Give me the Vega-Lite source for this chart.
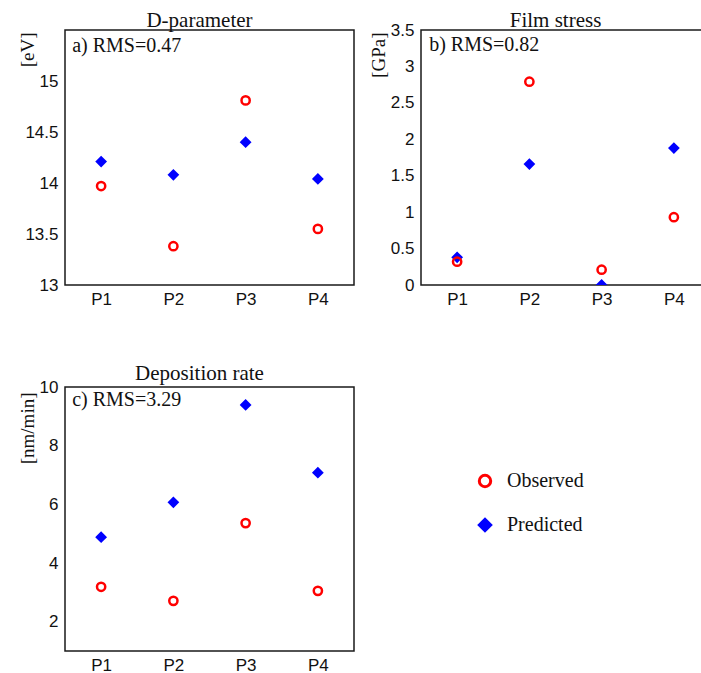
{
  "$schema": "https://vega.github.io/schema/vega-lite/v6.json",
  "background": "white",
  "padding": {"left": 17, "top": 9, "right": 0, "bottom": 0},
  "bounds": "flush",
  "columns": 2,
  "spacing": {"row": 102, "column": 67},
  "data": {
    "values": [
      {"panel": "D-parameter", "point": "P1", "series": "Predicted", "value": 14.21},
      {"panel": "D-parameter", "point": "P2", "series": "Predicted", "value": 14.08},
      {"panel": "D-parameter", "point": "P3", "series": "Predicted", "value": 14.40},
      {"panel": "D-parameter", "point": "P4", "series": "Predicted", "value": 14.04},
      {"panel": "D-parameter", "point": "P1", "series": "Observed", "value": 13.97},
      {"panel": "D-parameter", "point": "P2", "series": "Observed", "value": 13.38},
      {"panel": "D-parameter", "point": "P3", "series": "Observed", "value": 14.81},
      {"panel": "D-parameter", "point": "P4", "series": "Observed", "value": 13.55},
      {"panel": "Film stress", "point": "P1", "series": "Predicted", "value": 0.38},
      {"panel": "Film stress", "point": "P2", "series": "Predicted", "value": 1.66},
      {"panel": "Film stress", "point": "P3", "series": "Predicted", "value": 0.0},
      {"panel": "Film stress", "point": "P4", "series": "Predicted", "value": 1.88},
      {"panel": "Film stress", "point": "P1", "series": "Observed", "value": 0.32},
      {"panel": "Film stress", "point": "P2", "series": "Observed", "value": 2.79},
      {"panel": "Film stress", "point": "P3", "series": "Observed", "value": 0.21},
      {"panel": "Film stress", "point": "P4", "series": "Observed", "value": 0.93},
      {"panel": "Deposition rate", "point": "P1", "series": "Predicted", "value": 4.88},
      {"panel": "Deposition rate", "point": "P2", "series": "Predicted", "value": 6.07},
      {"panel": "Deposition rate", "point": "P3", "series": "Predicted", "value": 9.39},
      {"panel": "Deposition rate", "point": "P4", "series": "Predicted", "value": 7.08},
      {"panel": "Deposition rate", "point": "P1", "series": "Observed", "value": 3.19},
      {"panel": "Deposition rate", "point": "P2", "series": "Observed", "value": 2.71},
      {"panel": "Deposition rate", "point": "P3", "series": "Observed", "value": 5.36},
      {"panel": "Deposition rate", "point": "P4", "series": "Observed", "value": 3.05}
    ]
  },
  "concat": [
    {
      "title": {"text": "D-parameter", "offset": -1},
      "width": 289,
      "height": 255,
      "layer": [
        {
          "transform": [{"filter": "datum.panel == 'D-parameter'"}],
          "mark": {"type": "point", "clip": true, "opacity": 1, "strokeWidth": 2.5, "size": 68},
          "encoding": {
            "x": {"field": "point", "type": "ordinal", "scale": {"type": "point", "padding": 0.5}, "axis": {"title": null}},
            "y": {"field": "value", "type": "quantitative", "scale": {"domain": [13, 15.5], "nice": false, "zero": false}, "axis": {"title": "[eV]", "values": [13, 13.5, 14, 14.5, 15], "format": "~f", "titleX": -47, "titleY": 2}},
            "shape": {"field": "series", "type": "nominal", "scale": {"domain": ["Observed", "Predicted"], "range": ["circle", "diamond"]}, "legend": null},
            "fill": {"field": "series", "type": "nominal", "scale": {"domain": ["Observed", "Predicted"], "range": ["transparent", "#0000ff"]}, "legend": null},
            "stroke": {"field": "series", "type": "nominal", "scale": {"domain": ["Observed", "Predicted"], "range": ["#ff0000", "#0000ff"]}, "legend": null}
          }
        },
        {
          "data": {"values": [{"label": "a) RMS=0.47"}]},
          "mark": {"type": "text", "align": "left", "baseline": "top", "dx": -29, "dy": 6, "font": "Liberation Serif", "fontSize": 20, "color": "#111"},
          "encoding": {
            "x": {"datum": "P1", "type": "ordinal", "axis": {"title": null}},
            "y": {"datum": 15.5, "type": "quantitative", "axis": {"title": "[eV]", "values": [13, 13.5, 14, 14.5, 15], "format": "~f", "titleX": -47, "titleY": 2}},
            "text": {"field": "label"}
          }
        }
      ]
    },
    {
      "title": {"text": "Film stress", "offset": -10},
      "width": 289,
      "height": 255,
      "layer": [
        {
          "transform": [{"filter": "datum.panel == 'Film stress'"}],
          "mark": {"type": "point", "clip": true, "opacity": 1, "strokeWidth": 2.5, "size": 68},
          "encoding": {
            "x": {"field": "point", "type": "ordinal", "scale": {"type": "point", "padding": 0.5}, "axis": {"title": null}},
            "y": {"field": "value", "type": "quantitative", "scale": {"domain": [0, 3.5], "nice": false}, "axis": {"title": "[GPa]", "values": [0, 0.5, 1, 1.5, 2, 2.5, 3, 3.5], "format": "~f", "titleX": -52, "titleY": 2}},
            "shape": {"field": "series", "type": "nominal", "scale": {"domain": ["Observed", "Predicted"], "range": ["circle", "diamond"]}, "legend": null},
            "fill": {"field": "series", "type": "nominal", "scale": {"domain": ["Observed", "Predicted"], "range": ["transparent", "#0000ff"]}, "legend": null},
            "stroke": {"field": "series", "type": "nominal", "scale": {"domain": ["Observed", "Predicted"], "range": ["#ff0000", "#0000ff"]}, "legend": null}
          }
        },
        {
          "data": {"values": [{"label": "b) RMS=0.82"}]},
          "mark": {"type": "text", "align": "left", "baseline": "top", "dx": -28, "dy": 5, "font": "Liberation Serif", "fontSize": 20, "color": "#111"},
          "encoding": {
            "x": {"datum": "P1", "type": "ordinal", "axis": {"title": null}},
            "y": {"datum": 3.5, "type": "quantitative", "axis": {"title": "[GPa]", "values": [0, 0.5, 1, 1.5, 2, 2.5, 3, 3.5], "format": "~f", "titleX": -52, "titleY": 2}},
            "text": {"field": "label"}
          }
        }
      ]
    },
    {
      "title": {"text": "Deposition rate", "offset": -6},
      "width": 289,
      "height": 264,
      "layer": [
        {
          "transform": [{"filter": "datum.panel == 'Deposition rate'"}],
          "mark": {"type": "point", "clip": true, "opacity": 1, "strokeWidth": 2.5, "size": 68},
          "encoding": {
            "x": {"field": "point", "type": "ordinal", "scale": {"type": "point", "padding": 0.5}, "axis": {"title": null}},
            "y": {"field": "value", "type": "quantitative", "scale": {"domain": [1, 10], "nice": false, "zero": false}, "axis": {"title": "[nm/min]", "values": [2, 4, 6, 8, 10], "format": "~f", "titleX": -47, "titleY": 5}},
            "shape": {"field": "series", "type": "nominal", "scale": {"domain": ["Observed", "Predicted"], "range": ["circle", "diamond"]}, "legend": {"title": null, "orient": "none", "legendX": 410, "legendY": 84}},
            "fill": {"field": "series", "type": "nominal", "scale": {"domain": ["Observed", "Predicted"], "range": ["transparent", "#0000ff"]}, "legend": {"title": null, "orient": "none", "legendX": 410, "legendY": 84}},
            "stroke": {"field": "series", "type": "nominal", "scale": {"domain": ["Observed", "Predicted"], "range": ["#ff0000", "#0000ff"]}, "legend": {"title": null, "orient": "none", "legendX": 410, "legendY": 84}}
          }
        },
        {
          "data": {"values": [{"label": "c) RMS=3.29"}]},
          "mark": {"type": "text", "align": "left", "baseline": "top", "dx": -29, "dy": 3, "font": "Liberation Serif", "fontSize": 20, "color": "#111"},
          "encoding": {
            "x": {"datum": "P1", "type": "ordinal", "axis": {"title": null}},
            "y": {"datum": 10, "type": "quantitative", "axis": {"title": "[nm/min]", "values": [2, 4, 6, 8, 10], "format": "~f", "titleX": -47, "titleY": 5}},
            "text": {"field": "label"}
          }
        }
      ]
    }
  ],
  "resolve": {
    "scale": {"x": "independent", "y": "independent", "shape": "independent", "fill": "independent", "stroke": "independent"},
    "legend": {"shape": "independent", "fill": "independent", "stroke": "independent"}
  },
  "config": {
    "view": {"stroke": "#1a1a1a", "strokeWidth": 1.5},
    "axis": {
      "grid": false,
      "domain": false,
      "ticks": false,
      "labelFont": "Liberation Sans",
      "labelFontSize": 17,
      "labelColor": "#111",
      "titleFont": "Liberation Serif",
      "titleFontSize": 19,
      "titleFontWeight": "normal",
      "titleColor": "#111"
    },
    "axisX": {"labelAngle": 0, "labelPadding": 6},
    "axisY": {"labelPadding": 7, "titleAngle": 270, "titleAlign": "right", "titleBaseline": "top"},
    "title": {"font": "Liberation Serif", "fontSize": 21, "fontWeight": "normal", "color": "#111", "baseline": "alphabetic", "dx": -10},
    "legend": {
      "labelFont": "Liberation Serif",
      "labelFontSize": 20,
      "labelColor": "#111",
      "symbolSize": 130,
      "symbolStrokeWidth": 3,
      "rowPadding": 20,
      "labelOffset": 12
    }
  }
}
